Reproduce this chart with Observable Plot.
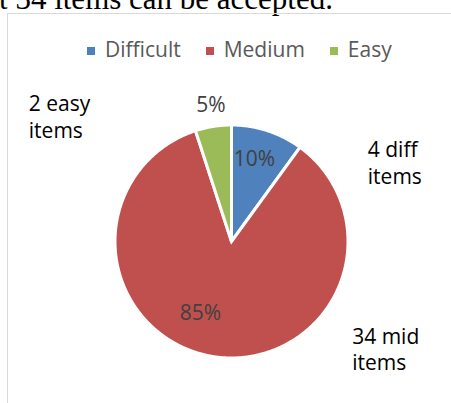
<!DOCTYPE html>
<html>
<head>
<meta charset="utf-8">
<script src="https://cdn.jsdelivr.net/npm/d3@7"></script>
<script src="https://cdn.jsdelivr.net/npm/@observablehq/plot@0.6"></script>
<style>
  html, body { margin: 0; padding: 0; background: #fff; }
  #page { position: relative; width: 451px; height: 403px; overflow: hidden; background: #fff; }
  #context { position: absolute; right: 118px; top: -17px; font: 31px "Liberation Serif", serif; line-height: 31px; white-space: nowrap; color: #000; }
  #frame { position: absolute; left: 7px; top: 13px; width: 700px; height: 700px; border: 1px solid #d9d9d9; box-sizing: border-box; }
  #legend { position: absolute; left: 87px; top: 39px; display: flex; align-items: center; font: 21px "Open Sans", sans-serif; line-height: 21px; color: #595959; white-space: nowrap; }
  #legend .item { display: flex; align-items: center; margin-right: 25px; }
  #legend .sw { width: 8px; height: 8px; margin-right: 10px; margin-top: 3px; }
  #chart { position: absolute; left: 0; top: 0; }
</style>
</head>
<body>
<div id="page">
  <div id="context">that 34 items can be accepted.</div>
  <div id="frame"></div>
  <div id="legend"></div>
  <div id="chart"></div>
</div>
<script>
// ---- data ----
const categories = ["Difficult", "Medium", "Easy"];
const itemCounts = [4, 34, 2];
const calloutTexts = ["4 diff\nitems", "34 mid\nitems", "2 easy\nitems"];

// ---- styles / layout ----
const colors = ["#4F81BD", "#C0504D", "#9BBB59"];
const W = 451, H = 403;
const cx = 231, cy = 241;   // pie centre in page pixels
const R = 115;              // visible radius
const border = 3;           // white slice border
// label anchors relative to pie centre (y up)
const pctOffsets = [[23, 82], [-31, -71.5], [-20.5, 136]];
const calloutOffsets = [[136.3, 103.2], [120.7, -83.1], [-202.7, 149.2]];

const total = d3.sum(itemCounts);
const fmt = d3.format(".0%");

// slices, clockwise from 12 o'clock
let acc = 0;
const slices = categories.map((c, i) => {
  const a0 = acc / total * 2 * Math.PI;
  acc += itemCounts[i];
  const a1 = acc / total * 2 * Math.PI;
  return {category: c, count: itemCounts[i], a0, a1, color: colors[i]};
});

function slicePolygon(s) {
  const r = R + border / 2;
  const pts = [{x: 0, y: 0}];
  const steps = Math.max(2, Math.ceil((s.a1 - s.a0) / (Math.PI / 360)));
  for (let k = 0; k <= steps; k++) {
    const a = s.a0 + (s.a1 - s.a0) * k / steps;
    pts.push({x: r * Math.sin(a), y: r * Math.cos(a)});
  }
  return pts;
}

const pctData = slices.map((s, i) => ({text: fmt(s.count / total), x: pctOffsets[i][0], y: pctOffsets[i][1]}));
const calloutData = slices.map((s, i) => ({text: calloutTexts[i], x: calloutOffsets[i][0], y: calloutOffsets[i][1]}));

const chart = Plot.plot({
  width: W,
  height: H,
  margin: 0,
  x: {domain: [-cx, W - cx], axis: null},
  y: {domain: [-(H - cy), cy], axis: null},
  style: {background: "transparent", overflow: "visible"},
  marks: [
    ...slices.map(s => Plot.line(slicePolygon(s), {
      x: "x", y: "y", curve: "linear-closed",
      fill: s.color, stroke: "white", strokeWidth: border,
      strokeLinejoin: "miter", strokeMiterlimit: 4
    })),
    Plot.text(pctData, {x: "x", y: "y", text: "text", fill: "#404040",
      fontSize: 21, fontFamily: "Open Sans", textAnchor: "middle", lineAnchor: "middle"}),
    Plot.text(calloutData, {x: "x", y: "y", text: "text", fill: "#000000",
      fontSize: 21, fontFamily: "Open Sans", textAnchor: "start", lineAnchor: "top", lineHeight: 1.27})
  ]
});
document.getElementById("chart").appendChild(chart);

// legend
const legend = document.getElementById("legend");
categories.forEach((c, i) => {
  const item = document.createElement("div");
  item.className = "item";
  const sw = document.createElement("div");
  sw.className = "sw";
  sw.style.background = colors[i];
  const label = document.createElement("span");
  label.textContent = c;
  item.appendChild(sw);
  item.appendChild(label);
  legend.appendChild(item);
});
</script>
</body>
</html>
